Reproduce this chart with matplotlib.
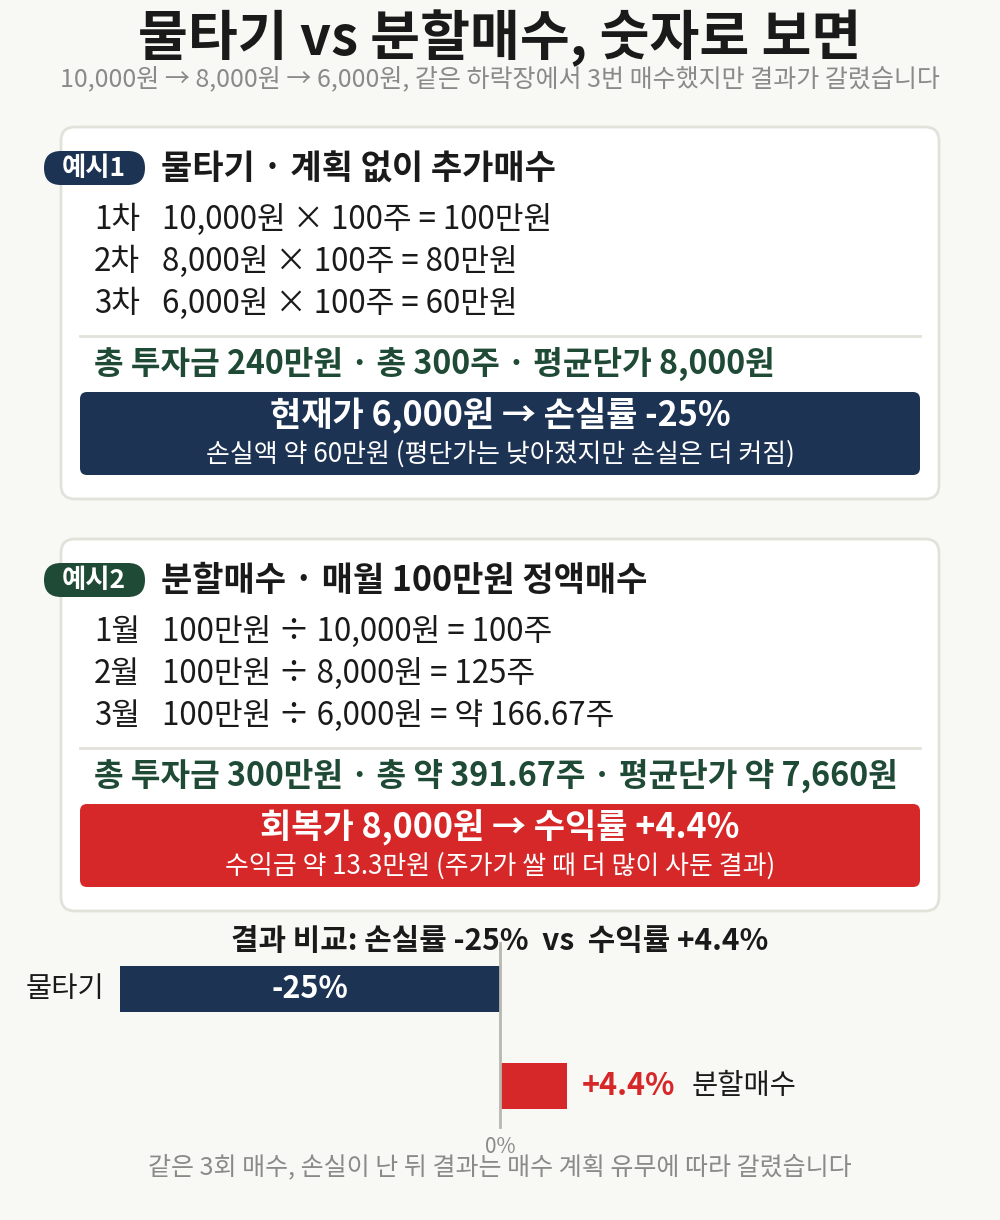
import matplotlib
matplotlib.use("Agg")
import matplotlib.pyplot as plt
from matplotlib.patches import FancyBboxPatch

plt.rcParams['font.family'] = ['Noto Sans CJK KR', 'DejaVu Sans']

# ---- data ----
title = "물타기 vs 분할매수, 숫자로 보면"
subtitle = "10,000원 → 8,000원 → 6,000원, 같은 하락장에서 3번 매수했지만 결과가 갈렸습니다"
ex1_rows = [("1차", "10,000원 × 100주 = 100만원"),
            ("2차", "8,000원 × 100주 = 80만원"),
            ("3차", "6,000원 × 100주 = 60만원")]
ex2_rows = [("1월", "100만원 ÷ 10,000원 = 100주"),
            ("2월", "100만원 ÷ 8,000원 = 125주"),
            ("3월", "100만원 ÷ 6,000원 = 약 166.67주")]
categories = ["물타기", "분할매수"]
returns = [-25.0, 4.4]
value_labels = ["-25%", "+4.4%"]

BG = "#f8f8f4"
NAVY = "#1d3354"
RED = "#d62828"
GREEN = "#1f4a35"
TXT = "#1a1a1a"
GRAY = "#8a8a8a"

fig = plt.figure(figsize=(10, 12.2), dpi=100, facecolor=BG)
ax = fig.add_axes([0, 0, 1, 1])
ax.set_xlim(0, 1000)
ax.set_ylim(1220, 0)
ax.axis("off")

ax.text(500, 38, title, ha="center", va="center", fontsize=39, fontweight="bold", color=TXT)
ax.text(500, 79, subtitle, ha="center", va="center", fontsize=18, color=GRAY)


def card(top, badge, badge_color, heading, rows, summary, hl_color, hl_main, hl_sub):
    ax.add_patch(FancyBboxPatch((61, top), 878, 372, boxstyle="round,pad=0,rounding_size=14",
                                fc="white", ec="#e2e2da", lw=2))
    ax.add_patch(FancyBboxPatch((44, top + 24), 101, 34, boxstyle="round,pad=0,rounding_size=17",
                                fc=badge_color, ec="none"))
    ax.text(94, top + 41, badge, ha="center", va="center", fontsize=19, fontweight="bold", color="white")
    ax.text(161, top + 41, heading, ha="left", va="center", fontsize=24.5, fontweight="bold", color=TXT)
    for i, (a, b) in enumerate(rows):
        y = top + 93 + i * 42
        ax.text(94, y, a, ha="left", va="center", fontsize=22.5, color=TXT)
        ax.text(162, y, b, ha="left", va="center", fontsize=22.5, color=TXT)
    ax.plot([80, 920], [top + 209, top + 209], color="#e2e2da", lw=2)
    ax.text(94, top + 237, summary, ha="left", va="center", fontsize=23.2, fontweight="bold", color=GREEN)
    ax.add_patch(FancyBboxPatch((80, top + 265), 840, 83, boxstyle="round,pad=0,rounding_size=7",
                                fc=hl_color, ec="none"))
    ax.text(500, top + 289, hl_main, ha="center", va="center", fontsize=24.5, fontweight="bold", color="white")
    ax.text(500, top + 327, hl_sub, ha="center", va="center", fontsize=18.7, color="white")


card(127, "예시1", NAVY, "물타기 · 계획 없이 추가매수", ex1_rows,
     "총 투자금 240만원 · 총 300주 · 평균단가 8,000원", NAVY,
     "현재가 6,000원 → 손실률 -25%", "손실액 약 60만원 (평단가는 낮아졌지만 손실은 더 커짐)")
card(539, "예시2", GREEN, "분할매수 · 매월 100만원 정액매수", ex2_rows,
     "총 투자금 300만원 · 총 약 391.67주 · 평균단가 약 7,660원", RED,
     "회복가 8,000원 → 수익률 +4.4%", "수익금 약 13.3만원 (주가가 쌀 때 더 많이 사둔 결과)")

ax.text(500, 941, "결과 비교: 손실률 -25%  vs  수익률 +4.4%", ha="center", va="center",
        fontsize=21.5, fontweight="bold", color=TXT)
ax.text(500, 1167, "같은 3회 매수, 손실이 난 뒤 결과는 매수 계획 유무에 따라 갈렸습니다",
        ha="center", va="center", fontsize=18, color=GRAY)

# ---- bar chart ----
bx = fig.add_axes([120 / 1000, 1 - 1119 / 1220, 447 / 1000, 163 / 1220])
bx.set_facecolor("none")
bx.set_xlim(-25, 4.4)
bx.set_ylim(1.34, -0.34)
bx.axis("off")
colors = [NAVY, RED]
for i, (c, v) in enumerate(zip(categories, returns)):
    bx.barh(i, v, height=0.47, color=colors[i])
bx.axvline(0, ymin=-0.05, ymax=1.08, color="#b8b8b0", lw=2, clip_on=False)
bx.text(returns[0] / 2, 0, value_labels[0], ha="center", va="center", fontsize=22,
        fontweight="bold", color="white")
bx.text(-25 - 1.0, 0, categories[0], ha="right", va="center", fontsize=20.5, color=TXT)
bx.text(returns[1] + 1.0, 1, value_labels[1], ha="left", va="center", fontsize=22,
        fontweight="bold", color=RED)
bx.text(returns[1] + 8.2, 1, categories[1], ha="left", va="center", fontsize=20.5, color=TXT)
bx.text(0, 1.63, "0%", ha="center", va="center", fontsize=15, color=GRAY, clip_on=False)

fig.savefig("out.png", dpi=100, facecolor=BG)
